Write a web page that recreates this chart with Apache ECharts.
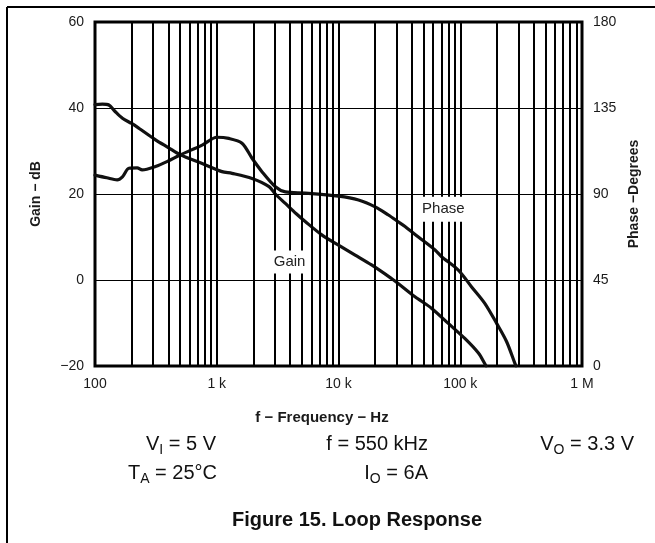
<!DOCTYPE html>
<html>
<head>
<meta charset="utf-8">
<script src="https://cdn.jsdelivr.net/npm/echarts@6/dist/echarts.min.js"></script>
<style>
  html, body { margin: 0; padding: 0; background: #fff; }
  #chart { width: 655px; height: 543px; }
</style>
</head>
<body>
<div id="chart"></div>
<script>
// ---- data ----
const gainFreq = [100, 115, 130, 145, 168, 200, 229, 314, 400, 503, 759, 1104, 1334, 1950, 2690, 3030, 3660, 4500, 5330, 7290, 10000, 13700, 18700, 27400, 30900, 42500, 58300, 79800, 109000, 141000, 160000, 163000];
const gainDb   = [40.8, 40.9, 40.7, 39.3, 37.6, 36.4, 35.3, 32.6, 30.8, 29.1, 27.1, 25.2, 24.8, 23.6, 21.7, 20.0, 17.8, 15.4, 13.6, 10.5, 8.1, 5.8, 3.5, 0.3, -0.8, -3.9, -6.6, -10.1, -13.6, -17.0, -19.6, -20.0];

const phaseFreq = [100, 125, 152, 168, 190, 222, 244, 314, 400, 503, 759, 1004, 1254, 1612, 1950, 2350, 3030, 3660, 5330, 10000, 14600, 20000, 25700, 30900, 35200, 45300, 62100, 70300, 96400, 124000, 159000, 199000, 240000, 281000, 287000];
const phaseDeg  = [99.9, 98.5, 97.4, 99.0, 103.5, 103.7, 102.6, 104.4, 107.3, 110.5, 115.6, 119.7, 119.1, 116.6, 108.7, 101.7, 93.8, 91.1, 90.5, 88.9, 86.9, 83.3, 79.0, 75.5, 73.0, 67.5, 60.7, 57.2, 50.2, 41.4, 32.8, 22.3, 12.8, 1.4, 0];

const xTickValues = [100, 1000, 10000, 100000, 1000000];
const xTickLabels = ['100', '1 k', '10 k', '100 k', '1 M'];
const gainTicks   = [-20, 0, 20, 40, 60];
const gainTickLabels = ['\u221220', '0', '20', '40', '60'];
const phaseTicks  = [0, 45, 90, 135, 180];
const phaseTickLabels = ['0', '45', '90', '135', '180'];

// minor vertical grid lines (2..9 within each decade)
const gridDecades = [100, 1000, 10000, 100000];
const gridMultipliers = [2, 3, 4, 5, 6, 7, 8, 9];

const gainLabelPos  = [3965, 4.2];
const phaseLabelPos = [72600, 82];

// condition annotations: [text parts, subscript flags]
const condVI = [['V', false], ['I', true], [' = 5 V', false]];
const condTA = [['T', false], ['A', true], [' = 25\u00b0C', false]];
const condF  = [['f = 550 kHz', false]];
const condIO = [['I', false], ['O', true], [' = 6A', false]];
const condVO = [['V', false], ['O', true], [' = 3.3 V', false]];

// ---- chart ----
const FONT = '"Liberation Sans", Arial, Helvetica, sans-serif';
const MAIN = 20, SUB = 14;
const chart = echarts.init(document.getElementById('chart'), null, { renderer: 'canvas' });

const minorLines = [];
gridDecades.forEach(d => gridMultipliers.forEach(m => minorLines.push({ xAxis: d * m })));

function lookup(values, labels) {
  return function (v) {
    for (let i = 0; i < values.length; i++) {
      if (Math.abs(v - values[i]) < 1e-6 * Math.max(1, Math.abs(values[i]))) return labels[i];
    }
    return '';
  };
}

const mctx = document.createElement('canvas').getContext('2d');
function textW(t, size) {
  mctx.font = size + 'px ' + FONT;
  return mctx.measureText(t).width;
}
// place a line of text with subscripts: right edge and alphabetic baseline given
function condText(parts, right, baseline) {
  const widths = parts.map(p => textW(p[0], p[1] ? SUB : MAIN));
  const total = widths.reduce((a, b) => a + b, 0);
  let x = right - total;
  const out = [];
  parts.forEach((p, i) => {
    const size = p[1] ? SUB : MAIN;
    const base = p[1] ? baseline + 4 : baseline;
    out.push({
      type: 'text', x: x, y: base - 0.3465 * size,
      style: { text: p[0], font: size + 'px ' + FONT, fill: '#111',
        textAlign: 'left', textVerticalAlign: 'middle' }
    });
    x += widths[i];
  });
  return out;
}

const option = {
  animation: false,
  backgroundColor: '#fff',
  textStyle: { fontFamily: FONT },
  grid: {
    left: 95, top: 22, width: 487, height: 344,
    show: true, borderColor: '#000', borderWidth: 3, backgroundColor: 'transparent'
  },
  xAxis: {
    type: 'log', logBase: 10, min: 100, max: 1000000,
    axisLine: { show: false }, axisTick: { show: false },
    axisLabel: {
      color: '#1a1a1a', fontSize: 14, fontFamily: FONT, margin: 11,
      formatter: lookup(xTickValues, xTickLabels)
    },
    splitLine: { show: true, lineStyle: { color: '#000', width: 2 } }
  },
  yAxis: [
    {
      type: 'value', min: -20, max: 60, interval: 20, position: 'left',
      name: 'Gain \u2212 dB', nameLocation: 'middle', nameGap: 52, nameRotate: 90,
      nameTextStyle: { fontSize: 14, fontWeight: 'bold', color: '#1a1a1a', fontFamily: FONT },
      axisLine: { show: false }, axisTick: { show: false },
      axisLabel: { color: '#1a1a1a', fontSize: 14, fontFamily: FONT, margin: 11,
        formatter: lookup(gainTicks, gainTickLabels) },
      splitLine: { show: true, lineStyle: { color: '#000', width: 1.2 } }
    },
    {
      type: 'value', min: 0, max: 180, interval: 45, position: 'right',
      name: 'Phase \u2212Degrees', nameLocation: 'middle', nameGap: 41, nameRotate: 90,
      nameTextStyle: { fontSize: 14, fontWeight: 'bold', color: '#1a1a1a', fontFamily: FONT },
      axisLine: { show: false }, axisTick: { show: false },
      axisLabel: { color: '#1a1a1a', fontSize: 14, fontFamily: FONT, margin: 11,
        formatter: lookup(phaseTicks, phaseTickLabels) },
      splitLine: { show: false }
    }
  ],
  series: [
    {
      name: 'grid', type: 'line', data: [], z: 1, silent: true,
      markLine: {
        silent: true, symbol: ['none', 'none'], animation: false,
        label: { show: false },
        lineStyle: { color: '#000', width: 2, type: 'solid' },
        data: minorLines
      }
    },
    {
      name: 'Gain', type: 'line', yAxisIndex: 0, z: 3,
      data: gainFreq.map((f, i) => [f, gainDb[i]]),
      showSymbol: false, symbol: 'none', smooth: 0.3,
      lineStyle: { color: '#111', width: 3.2, cap: 'round', join: 'round' },
      markPoint: {
        silent: true, symbol: 'rect', symbolSize: 1, itemStyle: { color: 'rgba(0,0,0,0)' },
        label: { show: true, position: 'inside', formatter: 'Gain', color: '#222', fontSize: 15,
          fontFamily: FONT, backgroundColor: '#fff', padding: [4, 3, 4, 3] },
        data: [{ coord: gainLabelPos }]
      }
    },
    {
      name: 'Phase', type: 'line', yAxisIndex: 1, z: 3,
      data: phaseFreq.map((f, i) => [f, phaseDeg[i]]),
      showSymbol: false, symbol: 'none', smooth: 0.3,
      lineStyle: { color: '#111', width: 3.2, cap: 'round', join: 'round' },
      markPoint: {
        silent: true, symbol: 'rect', symbolSize: 1, itemStyle: { color: 'rgba(0,0,0,0)' },
        label: { show: true, position: 'inside', formatter: 'Phase', color: '#222', fontSize: 15,
          fontFamily: FONT, backgroundColor: '#fff', padding: [5, 3, 5, 3] },
        data: [{ coord: phaseLabelPos }]
      }
    }
  ],
  graphic: [
    { type: 'line', shape: { x1: 7, y1: 7, x2: 655, y2: 7 }, style: { stroke: '#000', lineWidth: 2 } },
    { type: 'line', shape: { x1: 7, y1: 7, x2: 7, y2: 543 }, style: { stroke: '#000', lineWidth: 2 } },
    { type: 'text', x: 322, y: 418,
      style: { text: 'f \u2212 Frequency \u2212 Hz', font: 'bold 15px ' + FONT, fill: '#1a1a1a',
        textAlign: 'center', textVerticalAlign: 'middle' } },
    ...condText(condVI, 216, 451),
    ...condText(condTA, 217, 480),
    ...condText(condF, 428, 451),
    ...condText(condIO, 428, 480),
    ...condText(condVO, 634, 451),
    { type: 'text', x: 232, y: 520,
      style: { text: 'Figure 15. Loop Response', font: 'bold 20px ' + FONT, fill: '#111',
        textAlign: 'left', textVerticalAlign: 'middle' } }
  ]
};
chart.setOption(option);
</script>
</body>
</html>
